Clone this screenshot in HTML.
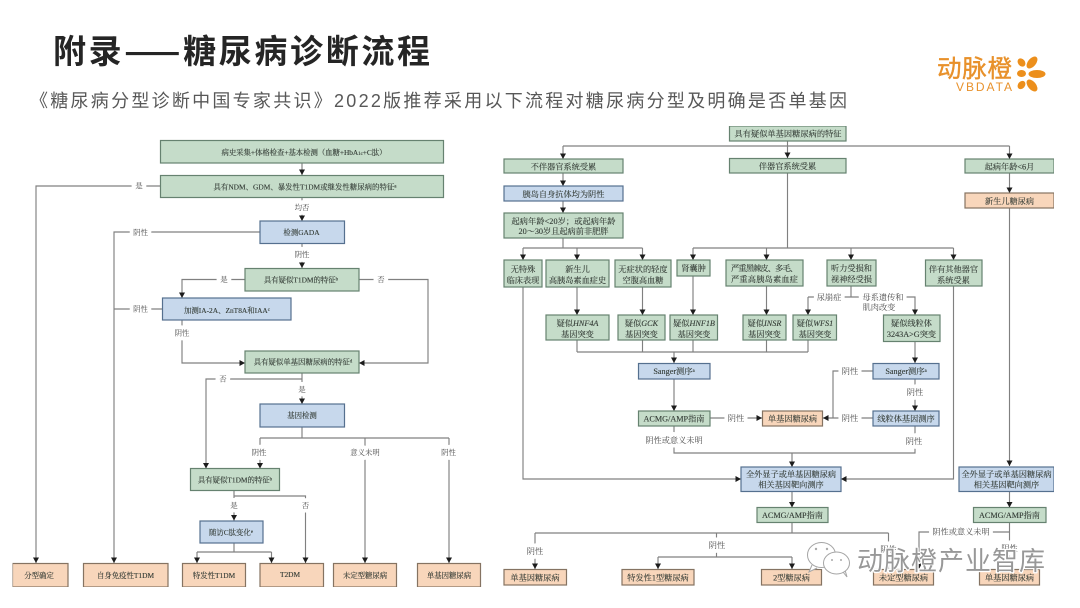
<!DOCTYPE html>
<html><head><meta charset="utf-8"><style>
html,body{margin:0;padding:0;background:#fff;width:1080px;height:608px;overflow:hidden}
svg{display:block}
.g{fill:#c5dcc9;stroke:#66826f;stroke-width:1.2}
.b{fill:#c7d8ec;stroke:#55708f;stroke-width:1.2}
.o{fill:#f8d6bb;stroke:#857362;stroke-width:1.2}
.l{fill:none;stroke:#808080;stroke-width:1.15}
.t{font-family:"Liberation Serif","Noto Serif CJK SC",serif;font-size:7.4px;fill:#333b35;text-anchor:middle;stroke:#333b35;stroke-width:.12px}
.r{font-size:8.2px}
.lb{font-family:"Liberation Serif","Noto Serif CJK SC",serif;font-size:7.4px;fill:#4a4a4a;text-anchor:middle;stroke:#fff;stroke-width:8px;paint-order:stroke;stroke-linejoin:round}
.lr{font-size:8.2px}
</style></head><body>
<svg width="1080" height="608" viewBox="0 0 1080 608" xmlns="http://www.w3.org/2000/svg">
<defs>
<filter id="s" x="0" y="0" width="100%" height="100%"><feGaussianBlur stdDeviation="0.35"/></filter>
</defs>
<rect width="1080" height="608" fill="#fff"/>
<text x="53" y="63" textLength="377" font-family="'Noto Sans CJK SC','WenQuanYi Zen Hei',sans-serif" font-size="33" font-weight="700" fill="#252525">附录——糖尿病诊断流程</text>
<text x="30" y="107" textLength="817" font-family="'Liberation Sans','Noto Sans CJK SC',sans-serif" font-size="18" fill="#585858">《糖尿病分型诊断中国专家共识》2022版推荐采用以下流程对糖尿病分型及明确是否单基因</text>

<!-- logo -->
<text x="937" y="77" textLength="75" font-family="'Noto Sans CJK SC',sans-serif" font-size="24.500" fill="#e8912b" stroke="#e8912b" stroke-width=".4">动脉橙</text>
<text x="956" y="91" textLength="56" font-family="'Liberation Sans',sans-serif" font-size="12" fill="#e8912b">VBDATA</text>
<g fill="#ec8f1c">
<ellipse cx="1021.500" cy="62.500" rx="4.500" ry="3.500" transform="rotate(50 1021.500 62.500)"/>
<ellipse cx="1032" cy="62.500" rx="7" ry="4" transform="rotate(-50 1032 62.500)"/>
<ellipse cx="1037" cy="74" rx="8.500" ry="4"/>
<ellipse cx="1032" cy="85.500" rx="7" ry="4" transform="rotate(50 1032 85.500)"/>
<ellipse cx="1021.500" cy="85" rx="4.500" ry="3.500" transform="rotate(-50 1021.500 85)"/>
<ellipse cx="1021.500" cy="73.500" rx="4.500" ry="3.500"/>
</g>

<g filter="url(#s)">
<!-- LEFT lines -->
<path class="l" d="M160 186H36V563M302 163V175M302 197V221M260 232H114V563M302 243V268M245 279.500H182V298M162 309H114M182 320V363H245M359 279.500H428V363H359M302 373V404M302 379H206V468.500M302 427V438M260 438H449M260 438V468.500M365 438V563M449 438V563M234 491V520.500M234 496H305.500V563M234 543V552M197 552H271.500M197 552V563M271.500 552V563"/>
<g fill="#1c1c1c">
<path d="M33 557.500H39L36 563zM111 557.500H117L114 563zM299 169.500H305L302 175zM299 215.500H305L302 221zM299 262.500H305L302 268zM179 292.500H185L182 298zM239.500 360V366L245 363zM364.500 360V366L359 363zM299 398.500H305L302 404zM203 463H209L206 468.500zM257 463H263L260 468.500zM362 557.500H368L365 563zM446 557.500H452L449 563zM231 515H237L234 520.500zM302.500 557.500H308.500L305.500 563zM194 557.500H200L197 563zM268.500 557.500H274.500L271.500 563z"/>
</g>
<!-- LEFT boxes -->
<rect class="g" x="160.500" y="140.500" width="283" height="22.500"/>
<rect class="g" x="160.500" y="175.500" width="283" height="22"/>
<rect class="b" x="260" y="221" width="84.500" height="22.500"/>
<rect class="g" x="245" y="268.500" width="114" height="22.500"/>
<rect class="b" x="162.500" y="298" width="128.500" height="22"/>
<rect class="g" x="245" y="351" width="114" height="22"/>
<rect class="b" x="260" y="404" width="84.500" height="23"/>
<rect class="g" x="190.500" y="468.500" width="89" height="22"/>
<rect class="b" x="200" y="521" width="63" height="22"/>
<rect class="o" x="12.500" y="563.500" width="55.500" height="23.500"/>
<rect class="o" x="83.500" y="563.500" width="84.500" height="23.500"/>
<rect class="o" x="182.500" y="563.500" width="63" height="23.500"/>
<rect class="o" x="260" y="563.500" width="63.500" height="23.500"/>
<rect class="o" x="333.500" y="563.500" width="63" height="23.500"/>
<rect class="o" x="417.500" y="563.500" width="63" height="23.500"/>
<!-- LEFT text -->
<text class="t" x="304" y="155" textLength="165">病史采集+体格检查+基本检测（血糖+HbA<tspan font-size="5">1c</tspan>+C肽）</text>
<text class="t" x="305" y="189.500" textLength="183">具有NDM、GDM、暴发性T1DM或继发性糖尿病的特征<tspan font-size="5" dy="-2">a</tspan></text>
<text class="t" x="301.500" y="235">检测GADA</text>
<text class="t" x="301" y="282.500">具有疑似T1DM的特征<tspan font-size="5" dy="-2">b</tspan></text>
<text class="t" x="227" y="313">加测IA-2A、ZnT8A和IAA<tspan font-size="5" dy="-2">c</tspan></text>
<text class="t" x="303" y="364.500">具有疑似单基因糖尿病的特征<tspan font-size="5" dy="-2">d</tspan></text>
<text class="t" x="302" y="418">基因检测</text>
<text class="t" x="235" y="482.500">具有疑似T1DM的特征<tspan font-size="5" dy="-2">b</tspan></text>
<text class="t" x="231" y="535">随访C肽变化<tspan font-size="5" dy="-2">e</tspan></text>
<text class="t" x="39" y="578">分型确定</text>
<text class="t" x="125.500" y="578">自身免疫性T1DM</text>
<text class="t" x="214" y="578">特发性T1DM</text>
<text class="t" x="290" y="577">T2DM</text>
<text class="t" x="365" y="578">未定型糖尿病</text>
<text class="t" x="449" y="578">单基因糖尿病</text>
<text class="lb" x="139" y="188.500">是</text>
<text class="lb" x="302" y="210">均否</text>
<text class="lb" x="140.500" y="235">阴性</text>
<text class="lb" x="302" y="257">阴性</text>
<text class="lb" x="224" y="282">是</text>
<text class="lb" x="381" y="282">否</text>
<text class="lb" x="140.500" y="311.500">阴性</text>
<text class="lb" x="182" y="335.500">阴性</text>
<text class="lb" x="223" y="381.500">否</text>
<text class="lb" x="302" y="392">是</text>
<text class="lb" x="259" y="455">阴性</text>
<text class="lb" x="365" y="455">意义未明</text>
<text class="lb" x="448.500" y="455">阴性</text>
<text class="lb" x="234" y="508">是</text>
<text class="lb" x="305.500" y="508">否</text>

<!-- RIGHT lines -->
<path class="l" d="M563 146H1009.500M563 146V159M787.500 140.500V158M1009.500 146V159M563 173V186M563 201V213M563 238V248M523 248H642.500M523 248V260M577 248V260M642.500 248V260M787.500 173V248M693 248H953.500M693 248V260M766.500 248V260M851 248V260M953.500 248V260M1009.500 173V193M1009.500 208V466M577 287V315M642.500 287V315M693 276V315M766.500 286V315M851 286V297M808 297H860M808 297V315M906 297H915V315M915 342V363M577 340V352M642.500 340V352M693 340V352M766.500 340V352M808 340V352M577 352H808M674 352V363M674 379V411M710 418H762M674 426V453H915V426M792 453V467M915 379V411M873 371H833V418H823M873 418H823M523 287V479H741M953.500 286V479H841M792 492V507.500M792 523V533M535 533H888.500M535 533V569M716.500 533V557M658 557H792M658 557V569M792 557V569M888.500 533V569M1009.500 492V507.500M1009.500 523V569M1009.500 532H919V569"/>
<g fill="#1c1c1c">
<path d="M560 153.500H566L563 159zM784.500 152.500H790.500L787.500 158zM1006.500 153.500H1012.500L1009.500 159zM560 180.500H566L563 186zM560 207.500H566L563 213zM520 254.500H526L523 260zM574 254.500H580L577 260zM639.500 254.500H645.500L642.500 260zM690 254.500H696L693 260zM763.500 254.500H769.500L766.500 260zM848 254.500H854L851 260zM950.500 254.500H956.500L953.500 260zM1006.500 187.500H1012.500L1009.500 193zM1006.500 460.500H1012.500L1009.500 466zM574 309.500H580L577 315zM639.500 309.500H645.500L642.500 315zM690 309.500H696L693 315zM763.500 309.500H769.500L766.500 315zM805 309.500H811L808 315zM912 309.500H918L915 315zM671 357.500H677L674 363zM912 357.500H918L915 363zM671 405.500H677L674 411zM912 405.500H918L915 411zM756.500 415V421L762 418zM828.500 415V421L823 418zM789 461.500H795L792 467zM735.500 476V482L741 479zM846.500 476V482L841 479zM789 502H795L792 507.500zM1006.500 502H1012.500L1009.500 507.500zM532 563.500H538L535 569zM655 563.500H661L658 569zM789 563.500H795L792 569zM916 563.500H922L919 569z"/>
</g>
<!-- RIGHT boxes -->
<rect class="g" x="729.500" y="126" width="116.500" height="15"/>
<rect class="g" x="504" y="159" width="119" height="14"/>
<rect class="g" x="729.500" y="158.500" width="116.500" height="14.500"/>
<rect class="g" x="965" y="159" width="89" height="14"/>
<rect class="o" x="965" y="193" width="89" height="15"/>
<rect class="b" x="504" y="186" width="119" height="15"/>
<rect class="g" x="504" y="213" width="119" height="25"/>
<rect class="g" x="504" y="260" width="38" height="27"/>
<rect class="g" x="546" y="260" width="63" height="27"/>
<rect class="g" x="615" y="260" width="56" height="27"/>
<rect class="g" x="677" y="260" width="33" height="16"/>
<rect class="g" x="726" y="260" width="77" height="26"/>
<rect class="g" x="827" y="260" width="49" height="26"/>
<rect class="g" x="925.500" y="260" width="56.500" height="26"/>
<rect class="g" x="546" y="315" width="63" height="25"/>
<rect class="g" x="618" y="315" width="47" height="25"/>
<rect class="g" x="670" y="315" width="47.500" height="25"/>
<rect class="g" x="743" y="315" width="43" height="25"/>
<rect class="g" x="793" y="315" width="43.500" height="25"/>
<rect class="g" x="883.500" y="315" width="56.500" height="26.500"/>
<rect class="b" x="638.500" y="363.500" width="71.500" height="15.500"/>
<rect class="b" x="873" y="363.500" width="66" height="15.500"/>
<rect class="g" x="638.500" y="411" width="71.500" height="15"/>
<rect class="o" x="762.500" y="411" width="60" height="15"/>
<rect class="b" x="873" y="411" width="66" height="15"/>
<rect class="b" x="741" y="467" width="100" height="24.500"/>
<rect class="b" x="959" y="467" width="95" height="24.500"/>
<rect class="g" x="757" y="507.500" width="71" height="15"/>
<rect class="g" x="973.500" y="507.500" width="72.500" height="15"/>
<rect class="o" x="504" y="569.500" width="62.500" height="15.500"/>
<rect class="o" x="622" y="569.500" width="72" height="15.500"/>
<rect class="o" x="761.500" y="569.500" width="60" height="15.500"/>
<rect class="o" x="873.500" y="569.500" width="60" height="15.500"/>
<rect class="o" x="979.500" y="569.500" width="60" height="15.500"/>
<!-- RIGHT text -->
<text class="t r" x="788" y="136.500" textLength="107">具有疑似单基因糖尿病的特征</text>
<text class="t r" x="563.500" y="169.500">不伴器官系统受累</text>
<text class="t r" x="787.500" y="169">伴器官系统受累</text>
<text class="t r" x="1009.500" y="169.500">起病年龄&lt;6月</text>
<text class="t r" x="1009.500" y="204">新生儿糖尿病</text>
<text class="t r" x="563.500" y="197">胰岛自身抗体均为阴性</text>
<text class="t r" x="563.500" y="224" textLength="104">起病年龄&lt;20岁；或起病年龄</text>
<text class="t r" x="563.500" y="234" textLength="90">20～30岁且起病前非肥胖</text>
<text class="t r" x="523" y="272">无特殊</text><text class="t r" x="523" y="283">临床表现</text>
<text class="t r" x="577.500" y="272">新生儿</text><text class="t r" x="577.500" y="283">高胰岛素血症史</text>
<text class="t r" x="643" y="272">无症状的轻度</text><text class="t r" x="643" y="283">空腹高血糖</text>
<text class="t r" x="693.500" y="271">肾囊肿</text>
<text class="t r" x="764.500" y="271" textLength="67">严重黑棘皮、多毛、</text><text class="t r" x="764.500" y="282" textLength="67">严重高胰岛素血症</text>
<text class="t r" x="851.500" y="271">听力受损和</text><text class="t r" x="851.500" y="282">视神经受损</text>
<text class="t r" x="953.500" y="272">伴有其他器官</text><text class="t r" x="953.500" y="283">系统受累</text>
<text class="t r" x="577.500" y="326">疑似<tspan font-style="italic">HNF4A</tspan></text><text class="t r" x="577.500" y="337">基因突变</text>
<text class="t r" x="641.500" y="326">疑似<tspan font-style="italic">GCK</tspan></text><text class="t r" x="641.500" y="337">基因突变</text>
<text class="t r" x="694" y="326">疑似<tspan font-style="italic">HNF1B</tspan></text><text class="t r" x="694" y="337">基因突变</text>
<text class="t r" x="764.500" y="326">疑似<tspan font-style="italic">INSR</tspan></text><text class="t r" x="764.500" y="337">基因突变</text>
<text class="t r" x="815" y="326">疑似<tspan font-style="italic">WFS1</tspan></text><text class="t r" x="815" y="337">基因突变</text>
<text class="t r" x="911.500" y="326">疑似线粒体</text><text class="t r" x="911.500" y="337">3243A&gt;G突变</text>
<text class="t r" x="674" y="374">Sanger测序<tspan font-size="5" dy="-2">a</tspan></text>
<text class="t r" x="906" y="374">Sanger测序<tspan font-size="5" dy="-2">a</tspan></text>
<text class="t r" x="674" y="421.500">ACMG/AMP指南</text>
<text class="t r" x="792.500" y="421.500">单基因糖尿病</text>
<text class="t r" x="906" y="421.500">线粒体基因测序</text>
<text class="t r" x="791" y="477">全外显子或单基因糖尿病</text><text class="t r" x="791" y="487.500">相关基因靶向测序</text>
<text class="t r" x="1006.500" y="477">全外显子或单基因糖尿病</text><text class="t r" x="1006.500" y="487.500">相关基因靶向测序</text>
<text class="t r" x="792.500" y="518">ACMG/AMP指南</text>
<text class="t r" x="1009.500" y="518">ACMG/AMP指南</text>
<text class="t r" x="535" y="580.500">单基因糖尿病</text>
<text class="t r" x="658" y="580.500">特发性1型糖尿病</text>
<text class="t r" x="791.500" y="580.500">2型糖尿病</text>
<text class="t r" x="903.500" y="580.500">未定型糖尿病</text>
<text class="t r" x="1009.500" y="580.500">单基因糖尿病</text>
<!-- RIGHT labels -->
<text class="lb lr" x="829" y="300">尿崩症</text>
<text class="lb lr" x="883" y="300">母系遗传和</text>
<text class="lb lr" x="879" y="310" style="stroke-width:0">肌肉改变</text>
<text class="lb lr" x="736" y="421">阴性</text>
<text class="lb lr" x="850" y="374">阴性</text>
<text class="lb lr" x="850" y="421">阴性</text>
<text class="lb lr" x="915" y="395">阴性</text>
<text class="lb lr" x="914" y="444">阴性</text>
<text class="lb lr" x="674" y="443">阴性或意义未明</text>
<text class="lb lr" x="535" y="554">阴性</text>
<text class="lb lr" x="717" y="548">阴性</text>
<text class="lb lr" x="961" y="534.500">阴性或意义未明</text>
<text class="lb lr" x="888.500" y="552">阴性</text>
<text class="lb lr" x="1009.500" y="551">阴性</text>
</g>

<!-- watermark -->
<g fill="none" stroke="#fff" stroke-width="3">
<ellipse cx="821.500" cy="555" rx="14" ry="12.500"/>
<ellipse cx="836.500" cy="563" rx="13" ry="11"/>
</g>
<g fill="#fff" stroke="#a5a5a5" stroke-width="1">
<path d="M812 565L809 572L817 568"/>
<ellipse cx="821.500" cy="555" rx="14" ry="12.500"/>
<path d="M843 572L847 577L845 570"/>
<ellipse cx="836.500" cy="563" rx="13" ry="11"/>
</g>
<g fill="#aaa"><circle cx="816" cy="549" r="1.200"/><circle cx="827" cy="549" r="1.200"/><circle cx="832" cy="560" r="1"/><circle cx="841" cy="560" r="1"/></g>
<text x="857" y="570" textLength="188" font-family="'Noto Sans CJK SC',sans-serif" font-size="26" fill="#989898" stroke="#fff" stroke-width="2.500" paint-order="stroke" stroke-linejoin="round">动脉橙产业智库</text>
</svg>
</body></html>
